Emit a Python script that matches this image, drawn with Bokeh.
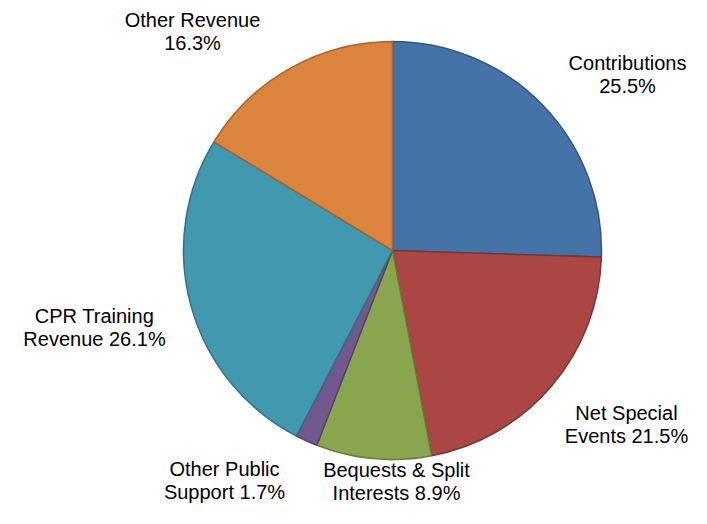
from math import pi
from bokeh.plotting import figure
from bokeh.models import ColumnDataSource, Range1d
from bokeh.core.properties import value
from bokeh.embed import file_html
from bokeh.resources import INLINE

categories = ["Contributions", "Net Special Events", "Bequests & Split Interests",
              "Other Public Support", "CPR Training Revenue", "Other Revenue"]
shares = [25.5, 21.5, 8.9, 1.7, 26.1, 16.3]
label_lines1 = ["Contributions", "Net Special", "Bequests & Split", "Other Public", "CPR Training", "Other Revenue"]
label_lines2 = ["25.5%", "Events 21.5%", "Interests 8.9%", "Support 1.7%", "Revenue 26.1%", "16.3%"]
fill_colors = ["#4572A7", "#AA4643", "#89A54E", "#71588F", "#4198AF", "#DB843D"]
edge_colors = ["#34557F", "#7F3432", "#677C3A", "#55426B", "#317284", "#A5632E"]

W, H = 691, 508
TOP = 524  # data y of the canvas top edge

# label anchor positions (image pixels from top-left)
label_px = [627, 626, 396, 224, 94, 192]
label_py = [74, 424, 481, 480, 327, 31]

cx, cy_px, r = 392, 250, 209

total = sum(shares)
starts, ends = [], []
acc = 0.0
for s in shares:
    starts.append(pi / 2 - acc / total * 2 * pi)
    acc += s
    ends.append(pi / 2 - acc / total * 2 * pi)

src = ColumnDataSource(dict(cat=categories, start=starts, end=ends,
                            fill=fill_colors, edge=edge_colors,
                            x=[cx] * len(shares), y=[TOP - cy_px] * len(shares)))

p = figure(width=W, height=H, output_backend="svg", toolbar_location=None,
           x_range=Range1d(0, W), y_range=Range1d(TOP - H, TOP),
           min_border=0, outline_line_color=None)
p.axis.visible = False
p.grid.visible = False
p.background_fill_color = "white"

p.wedge(x="x", y="y", radius=r, start_angle="start", end_angle="end",
        direction="clock", fill_color="fill", line_color="edge", line_width=1.5,
        source=src)

lsrc = ColumnDataSource(dict(x=label_px, y=[TOP - v for v in label_py],
                             t=[a + "\n" + b for a, b in zip(label_lines1, label_lines2)]))
p.text(x="x", y="y", text="t", source=lsrc, text_font=value("Liberation Sans"),
       text_font_size="20px", text_align="center", text_baseline="middle",
       text_color="#000000", text_line_height=1.07)

open("out.html", "w").write(file_html(p, INLINE))
